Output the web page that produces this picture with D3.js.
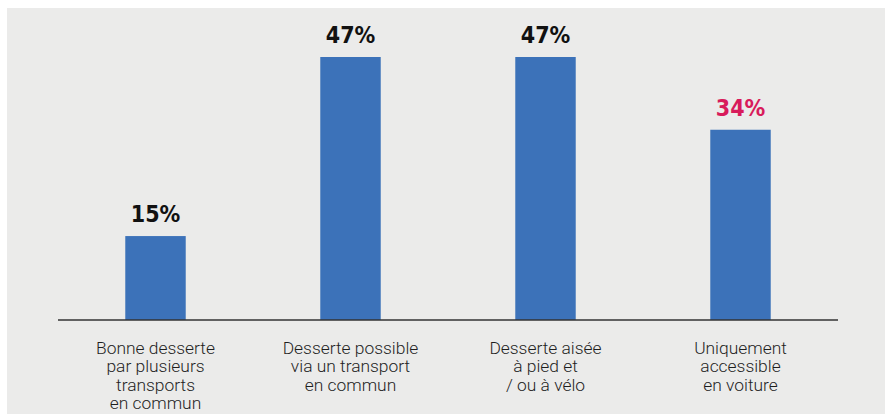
<!DOCTYPE html>
<html>
<head>
<meta charset="utf-8">
<title>Desserte</title>
<script src="https://d3js.org/d3.v7.min.js"></script>
<style>
  body { margin: 0; background: #fff; }
  .value { font-family: "DejaVu Sans Condensed", "DejaVu Sans"; font-weight: bold; font-size: 23px; }
  .cat { font-family: Roboto, "Open Sans", sans-serif; font-weight: 300; font-size: 17.4px; fill: #1e1e1e; }
</style>
</head>
<body>
<svg id="chart" width="885" height="414"></svg>
<script>
// data
var categories = [
  ["Bonne desserte", "par plusieurs", "transports", "en commun"],
  ["Desserte possible", "via un transport", "en commun"],
  ["Desserte aisée", "à pied et", "/ ou à vélo"],
  ["Uniquement", "accessible", "en voiture"]
];
var values = [15, 47, 47, 34];
var valueLabels = ["15%", "47%", "47%", "34%"];
var highlight = [false, false, false, true];

var svg = d3.select("#chart"),
  width = +svg.attr("width"),
  height = +svg.attr("height");

// grey panel
svg.append("rect")
  .attr("x", 7).attr("y", 8)
  .attr("width", width - 7).attr("height", height - 8)
  .attr("fill", "#ebebea");

var baseY = 320;
var x = d3.scaleBand()
  .domain(d3.range(values.length))
  .range([58, 838])
  .paddingInner(0.69)
  .paddingOuter(0.345);

var y = d3.scaleLinear()
  .domain([0, 47])
  .range([baseY, 57]);

// bars
svg.append("g")
  .selectAll("rect")
  .data(values)
  .enter()
  .append("rect")
    .attr("x", function(d, i) { return x(i); })
    .attr("y", function(d) { return y(d); })
    .attr("width", x.bandwidth())
    .attr("height", function(d) { return baseY - y(d); })
    .attr("fill", "#3c72b9");

// value labels
svg.append("g")
  .selectAll("text")
  .data(values)
  .enter()
  .append("text")
    .attr("class", "value")
    .attr("x", function(d, i) { return x(i) + x.bandwidth() / 2; })
    .attr("y", function(d) { return y(d) - 14; })
    .attr("text-anchor", "middle")
    .attr("fill", function(d, i) { return highlight[i] ? "#d81b5b" : "#111"; })
    .text(function(d, i) { return valueLabels[i]; });

// baseline
svg.append("line")
  .attr("x1", 58).attr("x2", 838)
  .attr("y1", baseY).attr("y2", baseY)
  .attr("stroke", "#333")
  .attr("stroke-width", 1.5);

// category labels
var cats = svg.append("g")
  .selectAll("text")
  .data(categories)
  .enter()
  .append("text")
    .attr("class", "cat")
    .attr("text-anchor", "middle")
    .attr("x", function(d, i) { return x(i) + x.bandwidth() / 2; })
    .attr("y", 354);

cats.selectAll("tspan")
  .data(function(d) { return d; })
  .enter()
  .append("tspan")
    .attr("x", function() { return d3.select(this.parentNode).attr("x"); })
    .attr("dy", function(d, j) { return j === 0 ? 0 : 18.3; })
    .text(function(d) { return d; });
</script>
</body>
</html>
